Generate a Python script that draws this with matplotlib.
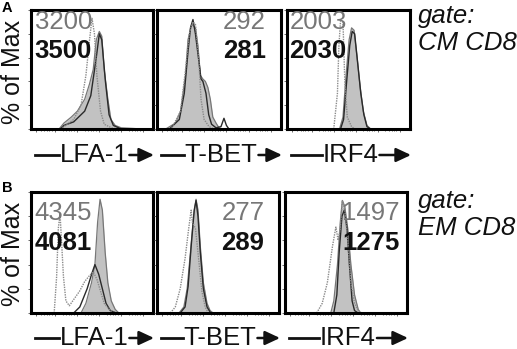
import matplotlib
matplotlib.use('Agg')
import matplotlib.pyplot as plt
from matplotlib.lines import Line2D
from matplotlib.patches import FancyArrowPatch
from matplotlib.transforms import IdentityTransform

plt.rcParams['font.family'] = ['Liberation Sans', 'DejaVu Sans']

W, H = 517, 349
FS = 18.5

# histogram curves, x in % of panel width, y in % of max
# row A, gate CM CD8
a1_fill_x = [23, 27, 33, 38, 44, 48, 51, 53.5, 56, 58, 60, 63, 65.5, 69, 74, 83, 91]
a1_fill_y = [0, 5, 10, 15, 25, 38, 50, 75, 82, 78, 50, 25, 8, 3, 1, 0.5, 0]
a1_line_x = [24, 27, 35, 44, 49, 53.5, 56, 58, 61, 64, 67.5, 74]
a1_line_y = [0, 3, 6, 15, 28, 60, 80, 75, 40, 12, 3, 0]
a1_dot_x = [24, 27, 35, 41, 45, 48, 50, 52, 54, 57, 60, 66, 71]
a1_dot_y = [0, 2, 8, 20, 45, 75, 93, 80, 45, 15, 4, 1, 0]

a2_fill_x = [7, 15, 19, 23, 25, 28, 31, 33, 35, 37, 39, 41, 43, 45, 47.6, 50, 53]
a2_fill_y = [0, 5, 15, 45, 75, 88, 85, 70, 45, 42, 40, 35, 25, 10, 5, 1, 0]
a2_line_x = [10, 18, 22, 25, 27, 29, 31, 34, 35.5, 37, 39.5, 41.7, 44, 47.6, 51.6, 54, 56, 58]
a2_line_y = [0, 8, 30, 65, 85, 92, 80, 55, 42, 40, 30, 12, 4, 1, 2, 9, 3, 0]
a2_dot_x = [10, 12.6, 19, 23, 26, 28.8, 31, 33.6, 35.5, 38, 42, 46]
a2_dot_y = [0, 2, 15, 50, 80, 90, 88, 60, 25, 8, 2, 0]

a3_fill_x = [42.7, 45.5, 48, 50.5, 52.5, 54.5, 57, 59.5, 62, 65, 68]
a3_fill_y = [0, 10, 45, 75, 85, 83, 60, 35, 15, 3, 0]
a3_line_x = [43.5, 46, 48.5, 51, 53, 55, 57.5, 60, 62.5, 65, 68]
a3_line_y = [0, 8, 40, 70, 82, 80, 55, 30, 12, 2, 0]
a3_dot_x = [38, 41, 42.2, 43.6, 45.5, 47, 49, 52.5, 55]
a3_dot_y = [0, 30, 70, 92, 90, 40, 10, 2, 0]

# row B, gate EM CD8
b1_fill_x = [41, 45, 49.6, 52.4, 54.6, 56.6, 58.5, 60.8, 63, 65.8, 69, 72]
b1_fill_y = [0, 8, 25, 40, 75, 94, 85, 50, 25, 10, 3, 0]
b1_line_x = [35, 40, 46, 50, 52.4, 55.5, 58.5, 61.5, 65, 70]
b1_line_y = [0, 5, 20, 33, 40, 32, 20, 8, 2, 0]
b1_dot_x = [19, 21, 22.4, 23.8, 25, 26.6, 28.6, 31.4, 35.6, 39.8, 44, 48, 51, 54, 57, 60, 64, 68]
b1_dot_y = [0, 30, 70, 82, 60, 30, 10, 6, 12, 18, 26, 31, 34, 28, 18, 8, 3, 0]

b2_fill_x = [18, 22, 24.7, 27.4, 30, 32, 33.6, 35.5, 38, 41, 43.5, 46]
b2_fill_y = [0, 5, 20, 50, 80, 94, 85, 55, 25, 8, 2, 0]
b2_line_x = [19, 23, 25.5, 28, 30.5, 32, 33.6, 35.5, 38, 41, 44]
b2_line_y = [0, 5, 22, 55, 85, 93, 80, 50, 20, 5, 0]
b2_dot_x = [11, 15, 19, 23, 26, 28, 29, 31.5, 33.6, 36.8, 39.5, 42]
b2_dot_y = [0, 5, 20, 45, 70, 85, 75, 70, 50, 18, 5, 0]

b3_fill_x = [37.5, 40, 43, 45.3, 47, 49, 51.4, 54, 57, 60, 62]
b3_fill_y = [0, 10, 40, 75, 93, 88, 70, 40, 15, 3, 0]
b3_line_x = [40, 42.5, 44.4, 46.7, 48.6, 50.8, 52.8, 55, 57, 60]
b3_line_y = [0, 15, 50, 80, 85, 70, 40, 10, 2, 0]
b3_dot_x = [26, 30.5, 34.7, 38.9, 41.7, 43.6, 45.3, 47, 49, 51.4, 54, 57, 60, 63]
b3_dot_y = [0, 8, 25, 55, 71, 60, 70, 93, 85, 60, 25, 8, 2, 0]

markers = ['LFA-1', 'T-BET', 'IRF4']
a_mfi_grey = ['3200', '292', '2003']
a_mfi_bold = ['3500', '281', '2030']
b_mfi_grey = ['4345', '277', '1497']
b_mfi_bold = ['4081', '289', '1275']
gates = ['CM CD8', 'EM CD8']

x_major = [4, 20, 38, 56, 74, 92]
x_minor = [8, 11, 13, 15, 17, 26, 29, 31, 33, 35, 44, 47, 49, 51, 53, 62, 65, 67, 69, 71, 80, 83, 85, 87, 89]
y_ticks = [0, 20, 40, 60, 80, 100]

a_curves = [(a1_fill_x, a1_fill_y, a1_line_x, a1_line_y, a1_dot_x, a1_dot_y),
            (a2_fill_x, a2_fill_y, a2_line_x, a2_line_y, a2_dot_x, a2_dot_y),
            (a3_fill_x, a3_fill_y, a3_line_x, a3_line_y, a3_dot_x, a3_dot_y)]
b_curves = [(b1_fill_x, b1_fill_y, b1_line_x, b1_line_y, b1_dot_x, b1_dot_y),
            (b2_fill_x, b2_fill_y, b2_line_x, b2_line_y, b2_dot_x, b2_dot_y),
            (b3_fill_x, b3_fill_y, b3_line_x, b3_line_y, b3_dot_x, b3_dot_y)]

# panel boxes in pixels (left, top, right, bottom)
a_boxes = [(31, 10, 153, 129), (157, 10, 281, 129), (287, 10, 410, 129)]
b_boxes = [(31, 192, 153, 313), (157, 192, 279, 313), (285, 192, 407, 313)]
# where the two numbers sit: (x in axes fraction, alignment)
a_text_pos = [(0.03, 'left'), (0.88, 'right'), (0.02, 'left')]
b_text_pos = [(0.03, 'left'), (0.88, 'right'), (0.94, 'right')]

fig = plt.figure(figsize=(W / 100, H / 100), dpi=100)


def panel(box, curves, grey, bold, tpos, y_grey, y_bold):
    x0, y0, x1, y1 = box
    ax = fig.add_axes([x0 / W, 1 - y1 / H, (x1 - x0) / W, (y1 - y0) / H])
    fx, fy, lx, ly, dx, dy = curves
    ax.fill_between(fx, fy, color='#c2c2c2', lw=0)
    ax.plot(fx, fy, color='#777777', lw=0.9)
    ax.plot(lx, ly, color='#2a2a2a', lw=1.0)
    ax.plot(dx, dy, color='#8a8a8a', lw=1.0, ls=(0, (1, 0.8)))
    ax.set_xlim(0, 100)
    ax.set_ylim(0, 100)
    for s in ax.spines.values():
        s.set_linewidth(2.2)
    ax.set_xticks(x_major)
    ax.set_xticks(x_minor, minor=True)
    ax.set_yticks(y_ticks)
    ax.tick_params(which='both', labelbottom=False, labelleft=False,
                   color='#555555', width=0.6)
    ax.tick_params(which='major', length=2.5)
    ax.tick_params(which='minor', length=1.5)
    xt, ha = tpos
    ax.text(xt, y_grey, grey, transform=ax.transAxes, ha=ha, va='baseline',
            fontsize=FS, color='#777777')
    ax.text(xt, y_bold, bold, transform=ax.transAxes, ha=ha, va='baseline',
            fontsize=FS, color='#111111', fontweight='bold')
    return ax


label_texts = []
for i in range(3):
    panel(a_boxes[i], a_curves[i], a_mfi_grey[i], a_mfi_bold[i], a_text_pos[i], 0.84, 0.60)
    panel(b_boxes[i], b_curves[i], b_mfi_grey[i], b_mfi_bold[i], b_text_pos[i], 0.77, 0.52)
    for box, yc in [(a_boxes[i], 155), (b_boxes[i], 338)]:
        xc = (box[0] + box[2]) / 2 + 2
        t = fig.text(xc / W, 1 - yc / H, markers[i], ha='center', va='center',
                     fontsize=FS, color='#111111')
        label_texts.append((t, box, yc))

fig.text(13 / W, 1 - 72 / H, '% of Max', rotation=90, ha='center', va='center',
         fontsize=18, color='#111111')
fig.text(13 / W, 1 - 254 / H, '% of Max', rotation=90, ha='center', va='center',
         fontsize=18, color='#111111')
fig.text(2 / W, 1 - 1 / H, 'A', ha='left', va='top', fontsize=10.5, fontweight='bold')
fig.text(2 / W, 1 - 181 / H, 'B', ha='left', va='top', fontsize=10.5, fontweight='bold')

for g, yt in zip(gates, [4, 189]):
    fig.text(418 / W, 1 - yt / H, 'gate:', ha='left', va='top', fontsize=FS,
             style='italic', color='#111111')
    fig.text(418 / W, 1 - (yt + 27) / H, g, ha='left', va='top', fontsize=FS,
             style='italic', color='#111111')

# dash before and arrow after each marker name
fig.canvas.draw()
r = fig.canvas.get_renderer()
for t, box, yc in label_texts:
    bb = t.get_window_extent(r)
    ypix = H - yc
    fig.add_artist(Line2D([box[0] + 4, bb.x0 - 1], [ypix, ypix], lw=2.0,
                          color='#111111', transform=IdentityTransform()))
    fig.add_artist(FancyArrowPatch((bb.x1 + 1, ypix), (box[2] + 1, ypix),
                                   arrowstyle='-|>,head_length=9,head_width=4.2',
                                   mutation_scale=1, lw=1.8, color='#111111',
                                   shrinkA=0, shrinkB=0,
                                   transform=IdentityTransform()))

fig.savefig('out.png', dpi=100)
